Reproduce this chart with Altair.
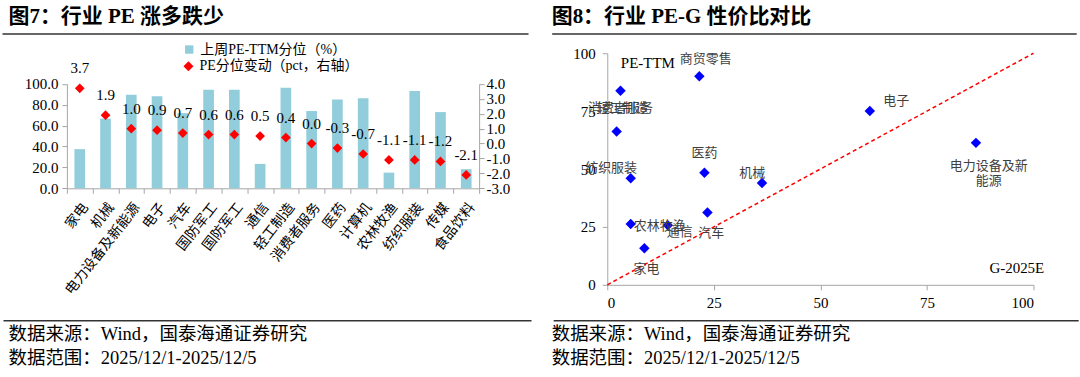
import altair as alt
import pandas as pd

# ---------------- data ----------------
industries = ["家电", "机械", "电力设备及新能源", "电子", "汽车", "国防军工", "国防军工", "通信",
              "轻工制造", "消费者服务", "医药", "计算机", "农林牧渔", "纺织服装", "传媒", "食品饮料"]
pe_pct = [37.5, 66.7, 89.7, 88.1, 72.0, 94.5, 94.5, 23.4, 96.2, 74.0, 85.0, 86.2, 15.0, 93.3, 73.0, 18.3]
pe_chg = [3.7, 1.9, 1.0, 0.9, 0.7, 0.6, 0.6, 0.5, 0.4, 0.0, -0.3, -0.7, -1.1, -1.1, -1.2, -2.1]

sc_names = ["商贸零售", "轻工制造", "消费者服务", "电子", "电力设备及新能源", "纺织服装",
            "医药", "机械", "汽车", "农林牧渔", "通信", "家电"]
sc_g = [21.6, 3.1, 2.2, 61.6, 86.5, 5.5, 22.8, 36.3, 23.5, 5.5, 14.2, 8.7]
sc_pe = [90.1, 83.8, 66.2, 75.1, 61.3, 46.0, 48.4, 44.0, 31.2, 26.3, 25.7, 15.8]
lab_text = ["商贸零售", "轻工制造", "消费者服务", "电子", "电力设备及新\n能源", "纺织服装",
            "医药", "机械", "汽车", "农林牧渔", "通信", "家电"]
lab_g = [23.1, 3.6, 3.1, 67.8, 89.5, 0.9, 22.8, 34.0, 24.4, 12.3, 17.0, 9.2]
lab_pe = [97.7, 76.2, 76.2, 79.4, 51.2, 50.3, 56.8, 48.4, 22.3, 25.4, 23.0, 6.8]
diag_g = [0, 100]
diag_pe = [0, 100]
axis_ticks_r = [0, 25, 50, 75, 100]
left_ticks = [0, 20, 40, 60, 80, 100]
right_ticks = [-3, -2, -1, 0, 1, 2, 3, 4]

title_left = "图7：行业 PE 涨多跌少"
title_right = "图8：行业 PE-G 性价比对比"
legend_bar = "上周PE-TTM分位（%）"
legend_pt = "PE分位变动（pct，右轴）"
footer1 = "数据来源：Wind，国泰海通证券研究"
footer2 = "数据范围：2025/12/1-2025/12/5"

FONT = "Liberation Serif, Noto Sans CJK SC"
AX = "#A6A6A6"
FMT1 = "replace(format(datum.value, '.1f'), '\u2212', '-')"

# ---------------- layout numbers ----------------
LW, LH = 413, 135.3
L_TOP = 30.7
RW, RH = 427, 232

one = pd.DataFrame({"k": [0]})


def deco(title, rule_x1, rule_x2, foot_x1, foot_x2, tx):
    layers = []
    layers.append(alt.Chart(one).mark_text(align="left", baseline="middle", font=FONT, fontSize=21,
                                           fontWeight="bold", color="black")
                  .encode(x=alt.value(tx), y=alt.value(-36), text=alt.value(title)))
    layers.append(alt.Chart(one).mark_rule(color="#333333", strokeWidth=1.5)
                  .encode(x=alt.value(rule_x1), x2=alt.value(rule_x2), y=alt.value(-19.4)))
    layers.append(alt.Chart(one).mark_rule(color="#333333", strokeWidth=1.5)
                  .encode(x=alt.value(foot_x1), x2=alt.value(foot_x2), y=alt.value(268)))
    layers.append(alt.Chart(one).mark_text(align="left", baseline="middle", font=FONT, fontSize=18.5,
                                           color="black")
                  .encode(x=alt.value(tx), y=alt.value(281), text=alt.value(footer1)))
    layers.append(alt.Chart(one).mark_text(align="left", baseline="middle", font=FONT, fontSize=18.5,
                                           color="black")
                  .encode(x=alt.value(tx), y=alt.value(305), text=alt.value(footer2)))
    return layers


def axis_common(**kw):
    base = dict(labelFont=FONT, labelFontSize=15, labelColor="black", tickSize=5, domainColor=AX,
                tickColor=AX, grid=False, labelOverlap=False)
    base.update(kw)
    return alt.Axis(**base)


# ---------------- left panel ----------------
ldf = pd.DataFrame({"idx": list(range(len(industries))), "name": industries,
                    "pct": pe_pct, "chg": pe_chg,
                    "s_bar": [legend_bar] * len(industries), "s_pt": [legend_pt] * len(industries)})
label_expr = "[" + ",".join("'" + n + "'" for n in industries) + "][datum.value]"

xenc = alt.X("idx:O", scale=alt.Scale(paddingInner=0, paddingOuter=0),
             axis=axis_common(title=None, labelExpr=label_expr, labelAngle=-52, labelAlign="right",
                              labelBaseline="top", tickBand="extent", labelFontSize=14, labelPadding=7))

bg = alt.Chart(one).mark_rect(opacity=0).encode(
    x=alt.value(-66.5), x2=alt.value(1013.5), y=alt.value(-53), y2=alt.value(324))

bars = alt.Chart(ldf).mark_bar(size=10.7).encode(
    x=xenc,
    y=alt.Y("pct:Q", scale=alt.Scale(domain=[0, 100], range=[LH, L_TOP]),
            axis=axis_common(title=None, values=left_ticks, format=".1f", labelPadding=4)),
    color=alt.Color("s_bar:N", scale=alt.Scale(range=["#92CDDC"]),
                    legend=alt.Legend(title=None, orient="none", legendX=115.6, legendY=-10.7,
                                      symbolType="square", symbolSize=70, labelFont=FONT,
                                      labelFontSize=14, labelColor="black", labelOffset=4,
                                      padding=0)),
)

yr = alt.Y("chg:Q", scale=alt.Scale(domain=[-3, 4], range=[LH, L_TOP]),
           axis=axis_common(title=None, orient="right", values=right_ticks, labelExpr=FMT1))
pts = alt.Chart(ldf).mark_point(filled=True, color="#FF0000", size=95, opacity=1).encode(
    x=xenc, y=yr,
    shape=alt.Shape("s_pt:N", scale=alt.Scale(range=["diamond"]),
                    legend=alt.Legend(title=None, orient="none", legendX=114.8, legendY=6,
                                      symbolSize=100, symbolFillColor="#FF0000",
                                      symbolStrokeColor="#FF0000", labelFont=FONT,
                                      labelFontSize=14, labelColor="black", labelOffset=4,
                                      padding=0)),
)
txt = alt.Chart(ldf).transform_calculate(
    lab="replace(format(datum.chg, '.1f'), '\u2212', '-')"
).mark_text(dy=-20, font=FONT, fontSize=15, color="black").encode(
    x=xenc, y=yr, text="lab:N")

left = alt.layer(bg, bars, alt.layer(pts, txt), *deco(title_left, -64.5, 462.5, -63.5, 465.5, -58.5)) \
    .resolve_scale(y="independent").properties(width=LW, height=LH)

# ---------------- right panel ----------------
sdf = pd.DataFrame({"name": sc_names, "g": sc_g, "pe": sc_pe})
ldf2 = pd.DataFrame({"t": lab_text, "g": lab_g, "pe": lab_pe})
ddf = pd.DataFrame({"g": diag_g, "pe": diag_pe})

xs = alt.Scale(domain=[0, 100])
ys = alt.Scale(domain=[0, 100])
xr = alt.X("g:Q", scale=xs,
           axis=axis_common(title="G-2025E", values=axis_ticks_r, labelPadding=6,
                            titleFont=FONT, titleFontSize=15, titleFontWeight="normal", titleColor="black",
                            titleX=437.3, titleY=-17, titleAlign="right", titleBaseline="middle"))
yr2 = alt.Y("pe:Q", scale=ys,
            axis=axis_common(title="PE-TTM", values=axis_ticks_r, labelPadding=7,
                             titleFont=FONT, titleFontSize=15, titleFontWeight="normal", titleColor="black",
                             titleAngle=0, titleX=13.1, titleY=9.3, titleAlign="left",
                             titleBaseline="middle"))

diag = alt.Chart(ddf).mark_line(color="#FF0000", strokeWidth=1.5, strokeDash=[4, 3]).encode(
    x=xr, y=yr2)
spts = alt.Chart(sdf).mark_point(shape="diamond", filled=True, color="#0000FF", size=110, opacity=1) \
    .encode(x=xr, y=yr2)
slab = alt.Chart(ldf2).mark_text(font=FONT, fontSize=13, color="#404040", lineBreak="\n",
                                 baseline="middle").encode(x=xr, y=yr2, text="t:N")

right = alt.layer(diag, spts, slab, *deco(title_right, -55.2, 470.3, -53.7, 472.3, -55.7)) \
    .properties(width=RW, height=RH)

chart = alt.hconcat(left, right, spacing=128.4, bounds="flush").properties(padding=0) \
    .configure_view(stroke=None)

chart.save("out.html", embed_options={"renderer": "svg", "actions": False})
